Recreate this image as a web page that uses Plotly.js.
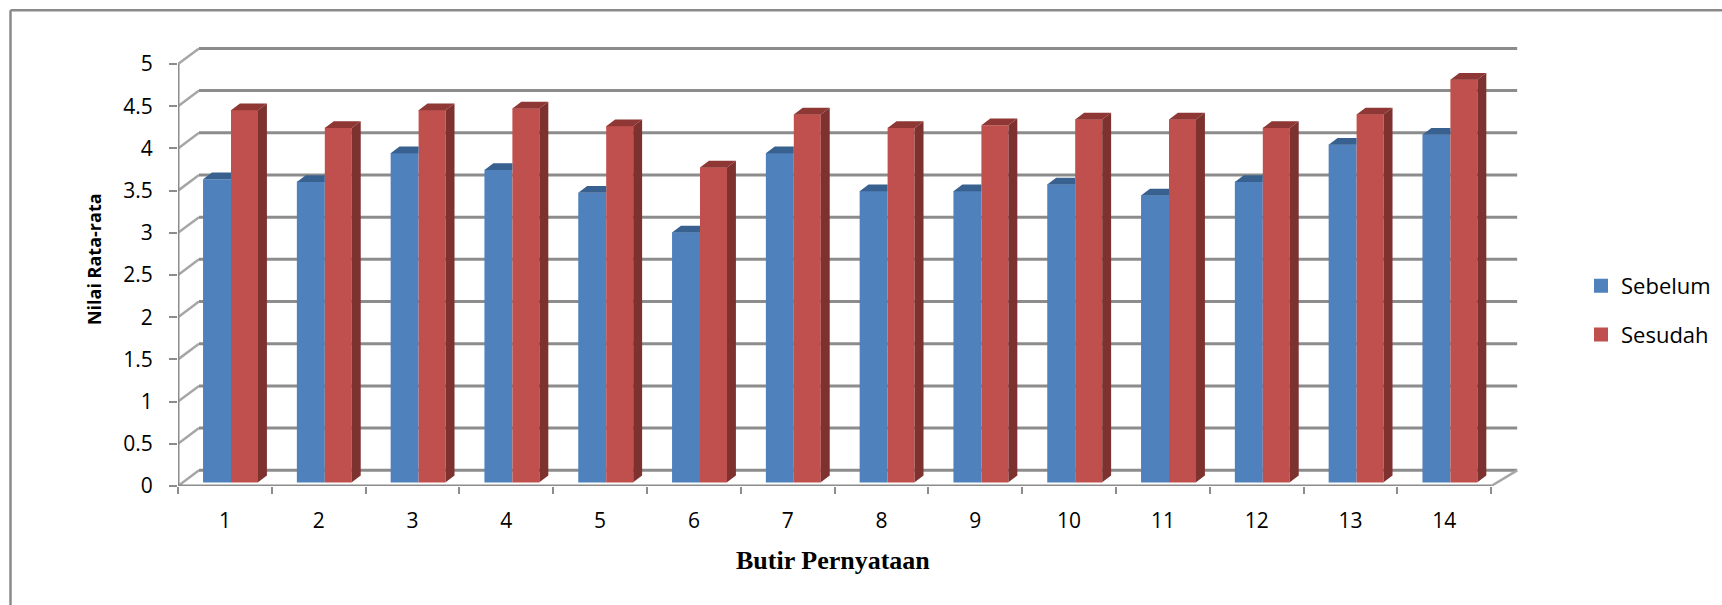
<!DOCTYPE html>
<html><head><meta charset="utf-8">
<script src="https://cdn.plot.ly/plotly-3.0.1.min.js"></script>
<style>html,body{margin:0;padding:0;background:#fff}#c{width:1722px;height:605px}</style>
</head><body><div id="c"></div>
<script>
const categories = [1,2,3,4,5,6,7,8,9,10,11,12,13,14];
const sebelum = [3.59,3.56,3.90,3.70,3.43,2.96,3.90,3.45,3.45,3.53,3.40,3.56,4.00,4.12];
const sesudah = [4.41,4.20,4.41,4.43,4.22,3.73,4.36,4.20,4.23,4.30,4.30,4.20,4.36,4.77];
const yTicks = [0,0.5,1,1.5,2,2.5,3,3.5,4,4.5,5];
const yTickLabels = ['0','0.5','1','1.5','2','2.5','3','3.5','4','4.5','5'];
const xBoundaries = [0.5,1.5,2.5,3.5,4.5,5.5,6.5,7.5,8.5,9.5,10.5,11.5,12.5,13.5,14.5];
const seriesNames = ['Sebelum','Sesudah'];

const GRAY='#8c8c8c', BLUE='#4F81BD', BLUE_TOP='#38618F', RED='#C0504D', RED_TOP='#8E3735', RED_SIDE='#7E3230';
const WALL_DX=0.224, WALL_DY=0.186;      // 3D wall offset in axis units
const FLOOR=0.044;                       // bars stand slightly in front of the axis
const BAR_DX=0.095, BAR_DY=0.08;         // depth of a bar in axis units
const B_OFF=-0.233, R_OFF=0.065, B_W=0.298, R_W=0.288;
const EDGE=0.0107;                       // half of the bar outline, in axis units

function poly(list){ const x=[],y=[]; list.forEach(p=>{p.forEach(q=>{x.push(q[0]);y.push(q[1]);}); x.push(null);y.push(null);}); return {x,y}; }
const blueTop = poly(categories.map((c,i)=>{const t=sebelum[i]+FLOOR,a=c+B_OFF,b=a+B_W;return [[a,t],[b,t],[b,t+BAR_DY],[a+BAR_DX,t+BAR_DY],[a,t]];}));
const redTop  = poly(categories.map((c,i)=>{const t=sesudah[i]+FLOOR,a=c+R_OFF,b=a+R_W;return [[a,t],[b,t],[b+BAR_DX,t+BAR_DY],[a+BAR_DX,t+BAR_DY],[a,t]];}));
const redSide = poly(categories.map((c,i)=>{const t=sesudah[i]+FLOOR,b=c+R_OFF+R_W;return [[b,FLOOR],[b,t],[b+BAR_DX,t+BAR_DY],[b+BAR_DX,FLOOR+BAR_DY],[b,FLOOR]];}));
const face=(p,col)=>({type:'scatter',mode:'lines',x:p.x,y:p.y,fill:'toself',fillcolor:col,line:{width:0,color:col},showlegend:false,hoverinfo:'skip'});

const xMax = 0.5+(1520-178)/93.8, yMax=5.25;
const xLast = xBoundaries[xBoundaries.length-1];

const shapes=[];
yTicks.forEach(v=>{
  shapes.push({type:'line',layer:'below',xref:'x',yref:'y',x0:0.5,y0:v,x1:0.5+WALL_DX,y1:v+WALL_DY,line:{color:'#a6a6a6',width:2.5}});
  shapes.push({type:'line',layer:'below',xref:'x',yref:'y',x0:0.5+WALL_DX,y0:v+WALL_DY,x1:xLast+0.277,y1:v+WALL_DY,line:{color:GRAY,width:3}});
});
shapes.push({type:'line',layer:'below',xref:'x',yref:'y',x0:xLast,y0:0,x1:xLast+0.277,y1:WALL_DY,line:{color:'#a6a6a6',width:2.5}});
// chart frame: only the top and left edges fall inside the picture
const PX=v=>(v-178)/1342, PY=v=>(485.7-v)/442.5;
shapes.push({type:'line',xref:'paper',yref:'paper',x0:PX(10.5),x1:PX(1722),y0:PY(10.5),y1:PY(10.5),line:{color:'#8a8a8a',width:2.5},layer:'below'});
shapes.push({type:'line',xref:'paper',yref:'paper',x0:PX(10.5),x1:PX(10.5),y0:PY(10.5),y1:PY(605),line:{color:'#8a8a8a',width:2.5},layer:'below'});

const data=[
 {type:'bar',name:seriesNames[0],x:categories,y:sebelum.map(v=>v-2*EDGE/1.1),base:FLOOR+EDGE/1.1,offset:B_OFF+EDGE,width:B_W-2*EDGE,marker:{color:BLUE,line:{width:2,color:BLUE}},legendgroup:'a',hoverinfo:'skip'},
 {type:'bar',name:seriesNames[1],x:categories,y:sesudah.map(v=>v-2*EDGE/1.1),base:FLOOR+EDGE/1.1,offset:R_OFF+EDGE,width:R_W-2*EDGE,marker:{color:RED,line:{width:2,color:RED}},legendgroup:'b',hoverinfo:'skip'},
 face(blueTop,BLUE_TOP), face(redTop,RED_TOP), face(redSide,RED_SIDE),
 {type:'scatter',mode:'lines',x:[0.5,0.5],y:[0,5],line:{color:GRAY,width:3},cliponaxis:false,showlegend:false,hoverinfo:'skip'},
 {type:'scatter',mode:'lines',x:[0.5,xLast],y:[0,0],line:{color:GRAY,width:3},cliponaxis:false,showlegend:false,hoverinfo:'skip'}
];

const layout={
 width:1722,height:605,paper_bgcolor:'#fff',plot_bgcolor:'rgba(0,0,0,0)',
 margin:{l:178,r:202,t:43.2,b:119.3,pad:0,autoexpand:false},
 barmode:'overlay',
 font:{family:'"Open Sans",sans-serif',color:'#000',size:21},
 xaxis:{type:'linear',range:[0.5,xMax],tickvals:categories,ticktext:categories.map(String),ticks:'',showgrid:false,zeroline:false,showline:false,automargin:false,
   tickfont:{size:21},ticklabelstandoff:20,
   minor:{tickvals:xBoundaries,ticks:'outside',ticklen:7,tickwidth:2,tickcolor:GRAY,showgrid:false}},
 yaxis:{range:[0,yMax],tickvals:yTicks,ticktext:yTickLabels,ticks:'outside',ticklen:8,tickwidth:2,tickcolor:GRAY,showgrid:false,zeroline:false,showline:false,automargin:false,
   tickfont:{size:21},ticklabelstandoff:12},
 shapes,
 legend:{x:PX(1581),xanchor:'left',y:PY(265),yanchor:'top',traceorder:'grouped',tracegroupgap:17,font:{size:22},itemclick:false,itemdoubleclick:false,bgcolor:'rgba(0,0,0,0)'},
 annotations:[
  {text:'<b>Butir Pernyataan</b>',xref:'paper',yref:'paper',x:PX(833),y:PY(560),xanchor:'center',yanchor:'middle',showarrow:false,font:{family:'"Liberation Serif",serif',size:26,color:'#000'}},
  {text:'<b>Nilai Rata-rata</b>',xref:'paper',yref:'paper',x:PX(94),y:PY(259),xanchor:'center',yanchor:'middle',textangle:-90,showarrow:false,font:{family:'"Open Sans",sans-serif',size:18,color:'#000'}}
 ]
};
Plotly.newPlot('c',data,layout,{displayModeBar:false,responsive:false});
</script></body></html>
